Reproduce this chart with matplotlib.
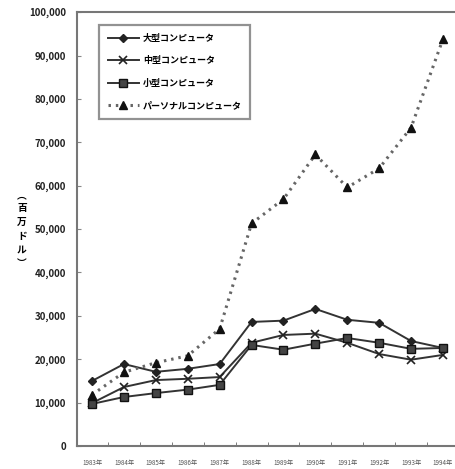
import matplotlib
matplotlib.use("Agg")
import matplotlib.pyplot as plt
from matplotlib.ticker import FuncFormatter, FixedLocator

plt.rcParams['font.family'] = ['Noto Sans CJK JP', 'DejaVu Sans']

years = ['1983年', '1984年', '1985年', '1986年', '1987年', '1988年',
         '1989年', '1990年', '1991年', '1992年', '1993年', '1994年']
large = [15000, 18900, 17100, 17800, 18900, 28600, 28900, 31600, 29100, 28400, 24200, 22600]
medium = [9900, 13600, 15200, 15500, 15900, 23800, 25600, 25900, 23800, 21200, 19900, 21000]
small = [9700, 11300, 12200, 13000, 14100, 23300, 22200, 23600, 24900, 23800, 22400, 22600]
personal = [11800, 17000, 19200, 20800, 27000, 51300, 56900, 67200, 59600, 64000, 73400, 93800]
names = ['大型コンピュータ', '中型コンピュータ', '小型コンピュータ', 'パーソナルコンピュータ']
ylabel_chars = ['︵', '百', '万', 'ド', 'ル', '︶']

fig = plt.figure(figsize=(4.56, 4.69), dpi=100)
ax = fig.add_axes([0.169, 0.049, 0.829, 0.925])
x = list(range(len(years)))
lc = '#333333'
ax.plot(x, large, color=lc, lw=1.4, marker='D', ms=4.5, mfc='#222222', mec='#222222', label=names[0])
ax.plot(x, medium, color=lc, lw=1.4, marker='x', ms=6, mew=1.2, mec='#222222', label=names[1])
ax.plot(x, small, color=lc, lw=1.4, marker='s', ms=5.5, mfc='#444444', mec='#111111', label=names[2])
ax.plot(x, personal, color='#666666', lw=2.2, ls=(0, (0.8, 1.6)), marker='^', ms=6,
        mfc='#111111', mec='#111111', label=names[3])

ax.set_xlim(-0.47, 11.38)
ax.set_ylim(0, 100000)
ax.set_xticks(x)
ax.set_xticklabels(years, fontsize=4.5, color='#555555')
ax.xaxis.set_minor_locator(FixedLocator([i + 0.5 for i in range(11)]))
ax.tick_params(axis='x', which='major', length=0, pad=9)
ax.tick_params(axis='x', which='minor', direction='in', length=3, color='#666666')
ax.set_yticks(range(0, 100001, 10000))
ax.yaxis.set_major_formatter(FuncFormatter(lambda v, p: f'{int(v):,}'))
ax.tick_params(axis='y', direction='in', length=3, color='#888888', labelsize=7, pad=8, labelcolor='#222222')
for lab in ax.get_yticklabels():
    lab.set_fontweight('bold')

for s in ['left', 'bottom', 'top']:
    ax.spines[s].set_color('#777777')
    ax.spines[s].set_linewidth(1.5)
ax.spines['right'].set_visible(False)

leg = ax.legend(loc='upper left', bbox_to_anchor=(0.058, 0.97), fontsize=6.5, frameon=True,
                fancybox=False, handlelength=3.5, borderpad=0.95, labelspacing=1.5,
                handletextpad=0.4, borderaxespad=0)
leg.get_frame().set_edgecolor('#777777')
leg.get_frame().set_linewidth(1.6)
for t in leg.get_texts():
    t.set_fontweight('bold')

fig.text(0.048, 0.512, '\n'.join(ylabel_chars), fontsize=7, fontweight='bold',
         ha='center', va='center', linespacing=1.45)

fig.savefig('out.png', dpi=100)
